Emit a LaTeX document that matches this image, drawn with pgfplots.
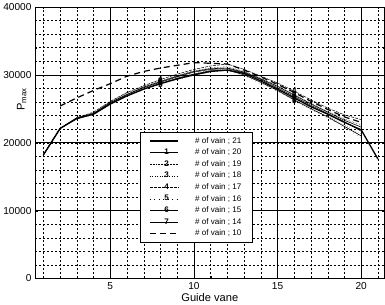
\documentclass[border=0pt]{standalone}
\usepackage{pgfplots}
\pgfplotsset{compat=1.18}
\usepackage{fontspec}
\setmainfont{Liberation Sans}
\begin{document}
\begin{tikzpicture}
\begin{axis}[
  scale only axis,
  width=345bp, height=268bp,
  xmin=0.5, xmax=21.4,
  ymin=0, ymax=40000,
  xtick={5,10,15,20},
  ytick={0,10000,20000,30000,40000},
  minor xtick={1,2,...,21},
  minor ytick={2000,4000,...,38000},
  scaled y ticks=false,
  /pgf/number format/1000 sep={},
  /pgf/number format/assume math mode=true,
  grid=both,
  major grid style={black, line width=0.5pt},
  minor grid style={black, line width=0.4pt, dash pattern=on 2pt off 2pt},
  axis line style={line width=0.8pt},
  tick style={black},
  tick align=inside,
  major tick length=3pt, minor tick length=2pt,
  tick label style={font=\fontsize{10}{12}\selectfont},
  xlabel={Guide vane},
  ylabel={P$_{\mathrm{max}}$},
  xlabel style={font=\fontsize{11}{13}\selectfont, yshift=3pt},
  ylabel style={font=\fontsize{11}{13}\selectfont, at={(ticklabel* cs:0.66)}, yshift=5pt},
  legend style={at={(0.30,0.54)}, anchor=north west, draw=black, fill=white,
    font=\fontsize{8}{9}\selectfont, row sep=0.2pt, inner xsep=9pt, inner ysep=3pt,
    line width=0.6pt},
  legend cell align=left,
  legend image code/.code={\draw[#1, mark indices={2}] plot coordinates {(0bp,0bp)(14bp,0bp)(28bp,0bp)}; \path (42bp,0bp);},
  text mark as node=true,
  text mark style={font=\bfseries\fontsize{8}{8}\selectfont, inner sep=0pt},
  mark indices={8,16},
]
% 21
\addplot[black, line width=1.3pt, no marks] coordinates {
(1,18200)(2,22100)(3,23600)(4,24200)(5,25700)(6,26900)(7,27900)(8,28700)(9,29400)(10,30000)
(11,30500)(12,30700)(13,30200)(14,29100)(15,27900)(16,26600)(17,25300)(18,24200)(19,23000)(20,21900)(21,17600)};
\addlegendentry{\# of vain ; 21}
% 20
\addplot[black, line width=0.5pt, mark=text, text mark={1}] coordinates {
(1,18200)(2,22100)(3,23600)(4,24300)(5,25900)(6,27100)(7,28100)(8,28900)(9,29700)(10,30400)
(11,30800)(12,30900)(13,30300)(14,29300)(15,28100)(16,26800)(17,25500)(18,24300)(19,23100)(20,21700)};
\addlegendentry{\# of vain ; 20}
% 19
\addplot[black, line width=0.5pt, densely dotted, mark=text, text mark={2}] coordinates {
(1,18200)(2,22100)(3,23600)(4,24400)(5,26000)(6,27300)(7,28300)(8,29100)(9,29900)(10,30600)
(11,31000)(12,31200)(13,30500)(14,29500)(15,28400)(16,27100)(17,25800)(18,24600)(19,23500)(20,22600)};
\addlegendentry{\# of vain ; 19}
% 18
\addplot[black, line width=0.4pt, dotted, mark=text, text mark={3}] coordinates {
(1,18200)(2,22100)(3,23600)(4,24200)(5,25800)(6,27000)(7,28000)(8,28800)(9,29600)(10,30200)
(11,30700)(12,30800)(13,30100)(14,29000)(15,27800)(16,26400)(17,25100)(18,23900)(19,22600)(20,21300)};
\addlegendentry{\# of vain ; 18}
% 17
\addplot[black, line width=0.5pt, dash pattern=on 3pt off 1pt, mark=text, text mark={4}] coordinates {
(1,18200)(2,22100)(3,23700)(4,24500)(5,26100)(6,27400)(7,28400)(8,29300)(9,30100)(10,30800)
(11,31300)(12,31600)(13,30800)(14,29800)(15,28800)(16,27600)(17,26300)(18,25100)(19,24100)(20,23400)};
\addlegendentry{\# of vain ; 17}
% 16
\addplot[black, line width=0.4pt, loosely dotted, mark=text, text mark={5}] coordinates {
(1,18200)(2,22100)(3,23500)(4,24100)(5,25600)(6,26800)(7,27800)(8,28600)(9,29300)(10,29900)
(11,30400)(12,30600)(13,29900)(14,28700)(15,27600)(16,26200)(17,24900)(18,23700)(19,22200)(20,20700)};
\addlegendentry{\# of vain ; 16}
% 15
\addplot[black, line width=0.6pt, mark=text, text mark={6}] coordinates {
(1,18200)(2,22100)(3,23600)(4,24300)(5,25900)(6,27100)(7,28200)(8,29000)(9,29800)(10,30500)
(11,30900)(12,31000)(13,30400)(14,29400)(15,28300)(16,27000)(17,25700)(18,24500)(19,23300)(20,22300)};
\addlegendentry{\# of vain ; 15}
% 14
\addplot[black, line width=0.6pt, mark=text, text mark={7}] coordinates {
(1,18200)(2,22100)(3,23500)(4,24200)(5,25700)(6,26900)(7,27900)(8,28700)(9,29500)(10,30100)
(11,30600)(12,30700)(13,30000)(14,28900)(15,27700)(16,26300)(17,25000)(18,23800)(19,22400)(20,21000)};
\addlegendentry{\# of vain ; 14}
% 10
\addplot[black, line width=1.2pt, dash pattern=on 6pt off 4pt, no marks] coordinates {
(2,25400)(3,26600)(4,27700)(5,28700)(6,29800)(7,30500)(8,31000)(9,31400)(10,31800)
(11,31700)(12,31600)(13,30700)(14,29700)(15,28600)(16,27400)(17,26100)(18,24900)(19,23800)(20,23000)};
\addlegendentry{\# of vain ; 10}
\end{axis}
\end{tikzpicture}
\end{document}
